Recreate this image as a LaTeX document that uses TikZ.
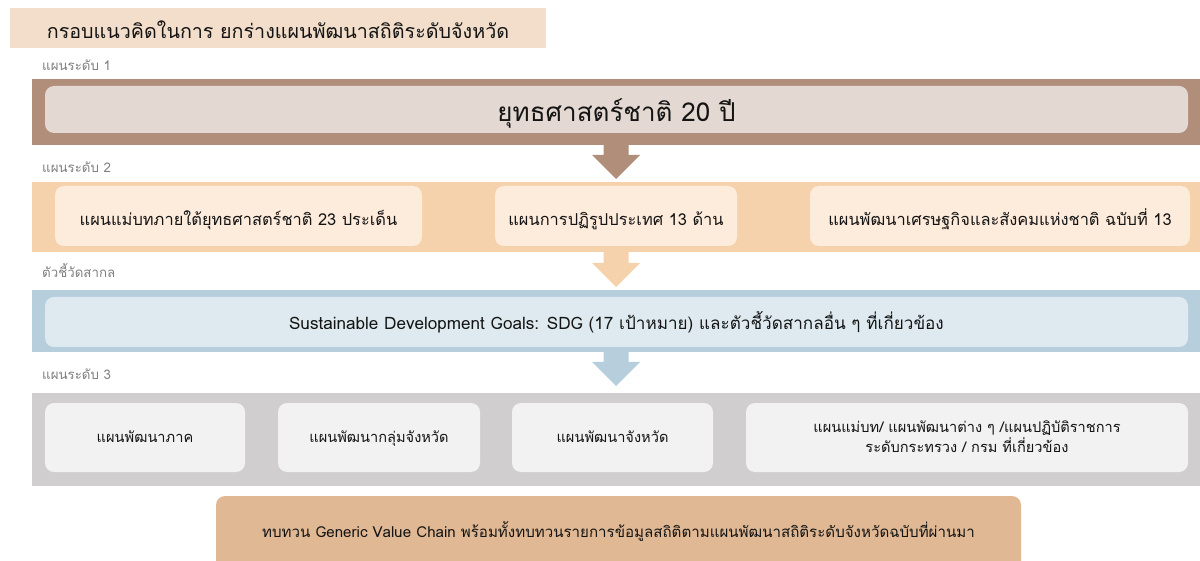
\documentclass[tikz,border=0pt]{standalone}
\usepackage{fontspec}
\setmainfont[Script=Thai]{Loma}
\usepackage{tikz}
\usetikzlibrary{positioning}
\usetikzlibrary{calc}
\usepackage{xcolor}
\definecolor{headfill}{HTML}{F2DECA}
\definecolor{onedark}{HTML}{B08E7A}
\definecolor{onelight}{HTML}{E3D8D2}
\definecolor{twodark}{HTML}{F6D2AC}
\definecolor{twolight}{HTML}{FDEBDB}
\definecolor{sdgdark}{HTML}{B7CFDC}
\definecolor{sdglight}{HTML}{DEEAEF}
\definecolor{threedark}{HTML}{D0CECF}
\definecolor{threelight}{HTML}{F2F2F2}
\definecolor{reviewfill}{HTML}{E0B893}
\definecolor{taggray}{HTML}{7F7F7F}
\definecolor{ink}{HTML}{141414}
\tikzset{band/.style={
          rectangle, anchor=north west,
          inner sep=0pt, outer sep=0pt
          },
        card/.style={
          rectangle, rounded corners=9pt, anchor=north west,
          inner sep=0pt, outer sep=0pt,
          align=center, text=ink, text depth=0pt
          },
        tag/.style={
          inner sep=0pt, text=taggray, text depth=0pt,
          font=\fontsize{13.3}{15}\selectfont
          },
        % text height only moves the baseline so the Thai body sits centred
        headtext/.style={font=\fontsize{19.7}{24}\selectfont, text height=22pt, text depth=0pt},
        bigtext/.style={font=\fontsize{26}{30}\selectfont, text height=25pt},
        midtext/.style={font=\fontsize{16.4}{20}\selectfont, text height=20pt},
        sdgtext/.style={font=\fontsize{17.1}{20}\selectfont, text height=16pt},
        smalltext/.style={font=\fontsize{14.6}{20}\selectfont, text height=9pt},
}

\begin{document}
\begin{tikzpicture}[x=1pt, y=-1pt]
      \useasboundingbox (0,0) rectangle (1200,561);
      % TITLE
      \node[band, fill=headfill, minimum width=536pt, minimum height=40pt, text=ink, headtext] (title) at (10,8) {กรอบแนวคิดในการ ยกร่างแผนพัฒนาสถิติระดับจังหวัด};

      % LEVEL 1
      \node[band, fill=onedark, minimum width=1168pt, minimum height=66pt] (lvl1) at (32,79) {};
      \node[card, fill=onelight, minimum width=1143pt, minimum height=47pt, bigtext] (strategy) at (45,86) {ยุทธศาสตร์ชาติ 20 ปี};
      \node[tag, above right=8pt and 10pt of lvl1.north west] (tag1) {แผนระดับ 1};

      % LEVEL 2
      \node[band, fill=twodark, minimum width=1168pt, minimum height=70pt] (lvl2) at (32,182) {};
      \node[card, fill=twolight, minimum width=367pt, minimum height=60pt, midtext] (master) at (55,186) {แผนแม่บทภายใต้ยุทธศาสตร์ชาติ 23 ประเด็น};
      \node[card, fill=twolight, minimum width=242pt, minimum height=60pt, midtext] (reform) at (495,186) {แผนการปฏิรูปประเทศ 13 ด้าน};
      \node[card, fill=twolight, minimum width=380pt, minimum height=60pt, midtext] (nesdp) at (810,186) {แผนพัฒนาเศรษฐกิจและสังคมแห่งชาติ ฉบับที่ 13};
      \node[tag, above right=9pt and 10pt of lvl2.north west] (tag2) {แผนระดับ 2};

      % GLOBAL INDICATORS
      \node[band, fill=sdgdark, minimum width=1168pt, minimum height=62pt] (lvl3) at (32,290) {};
      \node[card, fill=sdglight, minimum width=1143pt, minimum height=50pt, sdgtext] (sdg) at (45,297) {Sustainable Development Goals: SDG (17 เป้าหมาย) และตัวชี้วัดสากลอื่น ๆ ที่เกี่ยวข้อง};
      \node[tag, above right=12pt and 10pt of lvl3.north west] (tag3) {ตัวชี้วัดสากล};

      % LEVEL 3
      \node[band, fill=threedark, minimum width=1168pt, minimum height=93pt] (lvl4) at (32,393) {};
      \node[card, fill=threelight, minimum width=200pt, minimum height=69pt, smalltext] (region) at (45,403) {แผนพัฒนาภาค};
      \node[card, fill=threelight, minimum width=202pt, minimum height=69pt, smalltext] (cluster) at (278,403) {แผนพัฒนากลุ่มจังหวัด};
      \node[card, fill=threelight, minimum width=201pt, minimum height=69pt, smalltext] (province) at (512,403) {แผนพัฒนาจังหวัด};
      \node[card, fill=threelight, minimum width=442pt, minimum height=69pt, smalltext, text height=29pt] (ministry) at (746,403) {แผนแม่บท/ แผนพัฒนาต่าง ๆ /แผนปฏิบัติราชการ\\ระดับกระทรวง / กรม ที่เกี่ยวข้อง};
      \node[tag, above right=13pt and 10pt of lvl4.north west] (tag4) {แผนระดับ 3};

      % REVIEW (runs off the bottom edge)
      \node[card, fill=reviewfill, minimum width=805pt, minimum height=79pt, font=\fontsize{15.1}{18}\selectfont, text height=3pt] (review) at (216,496) {ทบทวน Generic Value Chain พร้อมทั้งทบทวนรายการข้อมูลสถิติตามแผนพัฒนาสถิติระดับจังหวัดฉบับที่ผ่านมา};

      % ARROWS between the levels
      \fill[onedark] ($(lvl1.south)+(-12.5,0)$) -- ($(lvl2.north)+(-12.5,-27)$) -- ($(lvl2.north)+(-24,-27)$) -- ($(lvl2.north)+(0,-3)$)
        -- ($(lvl2.north)+(24,-27)$) -- ($(lvl2.north)+(12.5,-27)$) -- ($(lvl1.south)+(12.5,0)$) -- cycle;
      \fill[twodark] ($(lvl2.south)+(-12.5,0)$) -- ($(lvl3.north)+(-12.5,-27)$) -- ($(lvl3.north)+(-24,-27)$) -- ($(lvl3.north)+(0,-3)$)
        -- ($(lvl3.north)+(24,-27)$) -- ($(lvl3.north)+(12.5,-27)$) -- ($(lvl2.south)+(12.5,0)$) -- cycle;
      \fill[sdgdark] ($(lvl3.south)+(-12.5,0)$) -- ($(lvl4.north)+(-12.5,-31)$) -- ($(lvl4.north)+(-24,-31)$) -- ($(lvl4.north)+(0,-7)$)
        -- ($(lvl4.north)+(24,-31)$) -- ($(lvl4.north)+(12.5,-31)$) -- ($(lvl3.south)+(12.5,0)$) -- cycle;
\end{tikzpicture}
\end{document}
